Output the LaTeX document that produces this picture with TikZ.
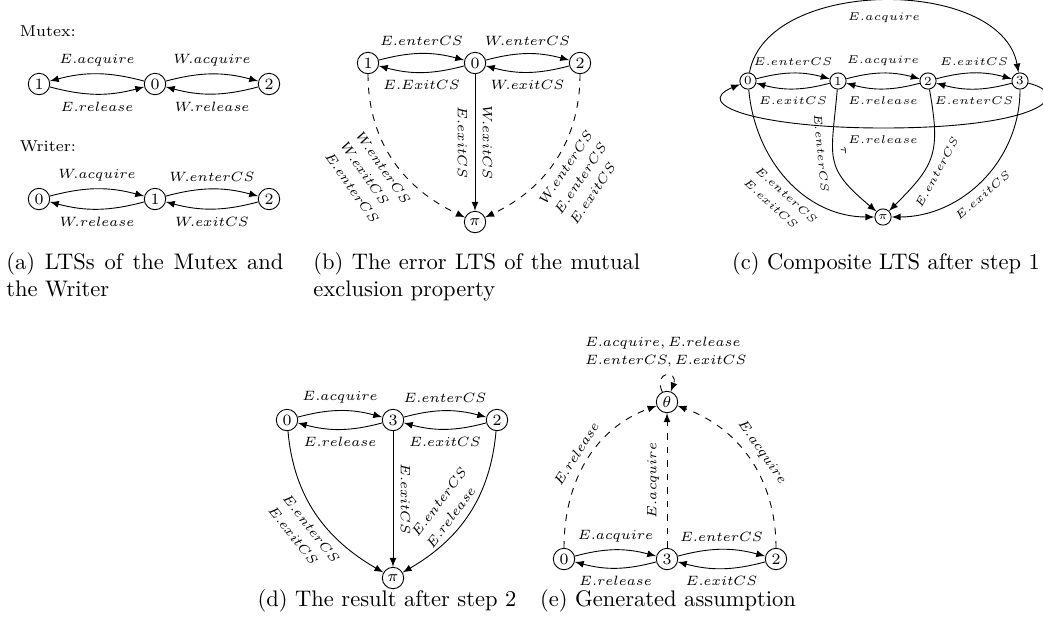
\documentclass[tikz,border=0pt]{standalone}

\tikzset{
  lts/.style={circle, draw, inner sep=0.5pt, minimum size=9.5pt, font=\scriptsize},
  ltssmall/.style={lts, minimum size=7.2pt, font=\fontsize{5.5}{6}\selectfont},
  lbl/.style={font=\fontsize{6}{7.2}\selectfont},
  lblsmall/.style={font=\fontsize{5.5}{6.6}\selectfont},
  err/.style={dashed},
  caption/.style={inner sep=0pt, font=\normalsize},
}

\begin{document}
\begin{tikzpicture}[x=0.444pt, y=-0.444pt, >=latex]

\useasboundingbox (0,0) rectangle (1043,627);

% (a) Mutex and Writer
\node[anchor=west, font=\scriptsize] (mutex) at (12,31) {Mutex:};
\node (m1) at (39,84) [lts] {1};
\node (m0) at (155,84) [lts] {0};
\node (m2) at (269,84) [lts] {2};
\draw[->] (m0) to[bend right=15] node[above, lbl] {$E.acquire$} (m1);
\draw[->] (m1) to[bend right=15] node[below, lbl] {$E.release$} (m0);
\draw[->] (m0) to[bend left=15] node[above, lbl] {$W.acquire$} (m2);
\draw[->] (m2) to[bend left=15] node[below, lbl] {$W.release$} (m0);

\node[anchor=west, font=\scriptsize] (writer) at (12,146) {Writer:};
\node (w0) at (39,199) [lts] {0};
\node (w1) at (155,199) [lts] {1};
\node (w2) at (269,199) [lts] {2};
\draw[->] (w0) to[bend left=15] node[above, lbl] {$W.acquire$} (w1);
\draw[->] (w1) to[bend left=15] node[below, lbl] {$W.release$} (w0);
\draw[->] (w1) to[bend left=15] node[above, lbl] {$W.enterCS$} (w2);
\draw[->] (w2) to[bend left=15] node[below, lbl] {$W.exitCS$} (w1);

\node[caption, anchor=north west, text width=123pt, align=justify] (capa) at (6,252)
  {(a) LTSs of the Mutex and\linebreak the Writer};

% (b) error LTS
\node (b1) at (368,63) [lts] {1};
\node (b0) at (475,63) [lts] {0};
\node (b2) at (580,63) [lts] {2};
\node (bpi) at (475,222) [lts] {$\pi$};
\draw[->] (b1) to[bend left=15] node[above, lbl] {$E.enterCS$} (b0);
\draw[->] (b0) to[bend left=15] node[below, lbl] {$E.ExitCS$} (b1);
\draw[->] (b0) to[bend left=15] node[above, lbl] {$W.enterCS$} (b2);
\draw[->] (b2) to[bend left=15] node[below, lbl] {$W.exitCS$} (b0);
\draw[->] (b0) -- node[above, sloped, lbl] {$W.exitCS$} node[below, sloped, lbl] {$E.exitCS$} (bpi);
\draw[->, err] (b1) to[out=-90, in=155] node[below, sloped, lbl, align=left] {$W.enterCS$\\[1pt]$W.exitCS$\\[1pt]$E.enterCS$} (bpi);
\draw[->, err] (b2) to[out=-90, in=25] node[below, sloped, lbl, align=left] {$W.enterCS$\\[1pt]$E.enterCS$\\[1pt]$E.exitCS$} (bpi);

\node[caption, anchor=north west, text width=145pt, align=justify] (capb) at (313,252)
  {(b) The error LTS of the mutual\linebreak exclusion property};

% (c) composite after step 1
\begin{scope}[lbl/.style={lblsmall}]
\node (c0) at (748,81) [ltssmall] {0};
\node (c1) at (838,81) [ltssmall] {1};
\node (c2) at (928,81) [ltssmall] {2};
\node (c3) at (1020,81) [ltssmall] {3};
\node (cpi) at (883,217) [ltssmall] {$\pi$};
\coordinate (cbot) at (883,128);
\draw[->] (c0) to[bend left=15] node[above, lbl] {$E.enterCS$} (c1);
\draw[->] (c1) to[bend left=15] node[below, lbl] {$E.exitCS$} (c0);
\draw[->] (c1) to[bend left=15] node[above, lbl] {$E.acquire$} (c2);
\draw[->] (c2) to[bend left=15] node[below, lbl] {$E.release$} (c1);
\draw[->] (c2) to[bend left=15] node[above, lbl] {$E.exitCS$} (c3);
\draw[->] (c3) to[bend left=15] node[below, lbl] {$E.enterCS$} (c2);
\draw[->] (c0) to[out=80, in=100, looseness=0.93] node[below=2pt, lbl] {$E.acquire$} (c3);
\draw[->] (c3) .. controls (1075,95) and (1040,128) .. (cbot) node[below, lbl] {$E.release$}
  .. controls (760,128) and (690,105) .. (c0);
\draw[->] (c0) to[out=-85, in=180] node[below, sloped, lbl, align=left, pos=0.55] {$E.enterCS$\\[1pt]$E.exitCS$} (cpi);
\draw[->] (c1) to[out=-95, in=140, looseness=1.4] node[above, sloped, lbl, pos=0.42] {$\tau$} node[below, sloped, lbl, pos=0.42] {$E.enterCS$} (cpi);
\draw[->] (c2) to[out=-80, in=45, looseness=1.3] node[below, sloped, lbl, pos=0.6] {$E.enterCS$} (cpi);
\draw[->] (c3) to[out=-90, in=0] node[below, sloped, lbl, pos=0.55] {$E.exitCS$} (cpi);
\end{scope}

\node[caption, anchor=north] (capc) at (886,252) {(c) Composite LTS after step 1};

% (d) result after step 2
\node (d0) at (287,420) [lts] {0};
\node (d3) at (393,420) [lts] {3};
\node (d2) at (497,420) [lts] {2};
\node (dpi) at (393,578) [lts] {$\pi$};
\draw[->] (d0) to[bend left=15] node[above, lbl] {$E.acquire$} (d3);
\draw[->] (d3) to[bend left=15] node[below, lbl] {$E.release$} (d0);
\draw[->] (d3) to[bend left=15] node[above, lbl] {$E.enterCS$} (d2);
\draw[->] (d2) to[bend left=15] node[below, lbl] {$E.exitCS$} (d3);
\draw[->] (d3) -- node[above, sloped, lbl] {$E.exitCS$} (dpi);
\draw[->] (d0) to[out=-85, in=150] node[below, sloped, lbl, align=left, pos=0.55] {$E.enterCS$\\[1pt]$E.exitCS$} (dpi);
\draw[->] (d2) to[out=-95, in=30] node[above, sloped, lbl, align=left, pos=0.55] {$E.enterCS$\\[1pt]$E.release$} (dpi);

\node[caption, anchor=north] (capd) at (387,589) {(d) The result after step 2};

% (e) generated assumption
\node (e0) at (564,559) [lts] {0};
\node (e3) at (667,559) [lts] {3};
\node (e2) at (776,559) [lts] {2};
\node (eth) at (667,402) [lts] {$\theta$};
\draw[->] (e0) to[bend left=15] node[above, lbl] {$E.acquire$} (e3);
\draw[->] (e3) to[bend left=15] node[below, lbl] {$E.release$} (e0);
\draw[->] (e3) to[bend left=15] node[above, lbl] {$E.enterCS$} (e2);
\draw[->] (e2) to[bend left=15] node[below, lbl] {$E.exitCS$} (e3);
\draw[->, err] (e0) to[out=90, in=200] node[above, sloped, lbl] {$E.release$} (eth);
\draw[->, err] (e3) -- node[above, sloped, lbl] {$E.acquire$} (eth);
\draw[->, err] (e2) to[out=90, in=-20] node[above, sloped, lbl] {$E.acquire$} (eth);
\draw[->, err] (eth) to[out=115, in=70, looseness=7] node[above, lbl, align=left]
  {$E.acquire, E.release$\\[1pt]$E.enterCS, E.exitCS$} (eth);

\node[caption, anchor=north] (cape) at (668,589) {(e) Generated assumption};

\end{tikzpicture}
\end{document}
